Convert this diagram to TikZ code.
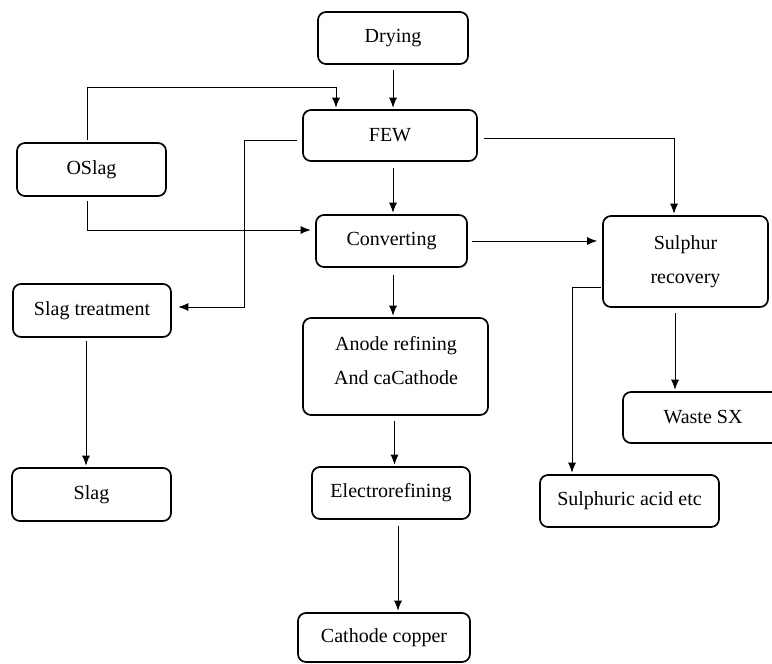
\documentclass[tikz,border=0pt]{standalone}
\usepackage{fontspec}
\setmainfont{Liberation Serif}
\usetikzlibrary{arrows.meta}
\begin{document}
\begin{tikzpicture}[x=1pt,y=-1pt,
  box/.style={draw, line width=1.7pt, rounded corners=8pt, align=center, inner sep=0pt,
    font=\fontsize{20}{34}\selectfont},
  arr/.style={line width=0.8pt, -{Latex[length=10pt,width=8pt]}, shorten >=1.5pt},
  ln/.style={line width=0.8pt}]
\useasboundingbox (0,0) rectangle (772,664);
\node[box, minimum width=150pt, minimum height=52pt] (drying) at (393,38) {Drying};
\node[box, minimum width=174pt, minimum height=51pt] (few) at (390,135.5) {FEW};
\node[box, minimum width=149pt, minimum height=53pt] (oslag) at (91.5,169.5) {OSlag};
\node[box, minimum width=151pt, minimum height=52pt] (conv) at (391.5,241) {Converting};
\node[box, minimum width=158pt, minimum height=53pt] (slagt) at (92,310.5) {Slag treatment};
\node[box, minimum width=185pt, minimum height=97pt] (anode) at (395.5,366.5) {};
\node[font=\fontsize{20}{34}\selectfont, align=center] (anodetext) at (396,361) {Anode refining\\And caCathode};
\node[box, minimum width=165pt, minimum height=91pt] (sul) at (685.5,261.5) {Sulphur\\recovery};
\node[box, minimum width=160pt, minimum height=51pt] (waste) at (703,417.5) {Waste SX};
\node[box, minimum width=159pt, minimum height=53pt] (slag) at (91.5,494.5) {Slag};
\node[box, minimum width=158pt, minimum height=52pt] (elec) at (391,493) {Electrorefining};
\node[box, minimum width=179pt, minimum height=52pt] (sa) at (629.5,501) {Sulphuric acid etc};
\node[box, minimum width=172pt, minimum height=49pt] (cath) at (384,637.5) {Cathode copper};

\draw[arr] ([yshift=-5pt]drying.south) -- (drying.south |- few.north);
\draw[arr] ([xshift=-4.5pt,yshift=2pt]oslag.north) -- ++(0,-53) -| ([xshift=-54pt]few.north);
\draw[arr] ([xshift=-5pt,yshift=-5pt]few.west) -- ++(-53,0) |- ([xshift=5pt,yshift=3.5pt]slagt.east);
\draw[arr] ([xshift=-4.5pt,yshift=-4pt]oslag.south) |- ([xshift=-3pt,yshift=11pt]conv.west);
\draw[arr] ([xshift=3pt,yshift=-6pt]few.south) -- ([xshift=3pt]few.south |- conv.north);
\draw[arr] ([xshift=6pt,yshift=-2.5pt]few.east) -| ([xshift=-11.5pt]sul.north);
\draw[arr, shorten >=5pt] ([xshift=4pt]conv.east) -- (conv.east -| sul.west);
\draw[arr] ([xshift=1.5pt,yshift=-7pt]conv.south) -- ([xshift=1.5pt]conv.south |- anode.north);
\draw[arr] ([xshift=-1pt,yshift=-25.5pt]sul.west) -| ([xshift=-57.5pt]sa.north);
\draw[arr] ([xshift=-10.5pt,yshift=-5pt]sul.south) -- ([xshift=-10.5pt]sul.south |- waste.north);
\draw[arr] ([xshift=-1pt,yshift=-5pt]anode.south) -- ([xshift=-1pt]anode.south |- elec.north);
\draw[arr] ([xshift=7pt,yshift=-6pt]elec.south) -- ([xshift=7pt]elec.south |- cath.north);
\draw[arr] ([xshift=-6pt,yshift=-3pt]slagt.south) -- ([xshift=-6pt]slagt.south |- slag.north);
\end{tikzpicture}
\end{document}
